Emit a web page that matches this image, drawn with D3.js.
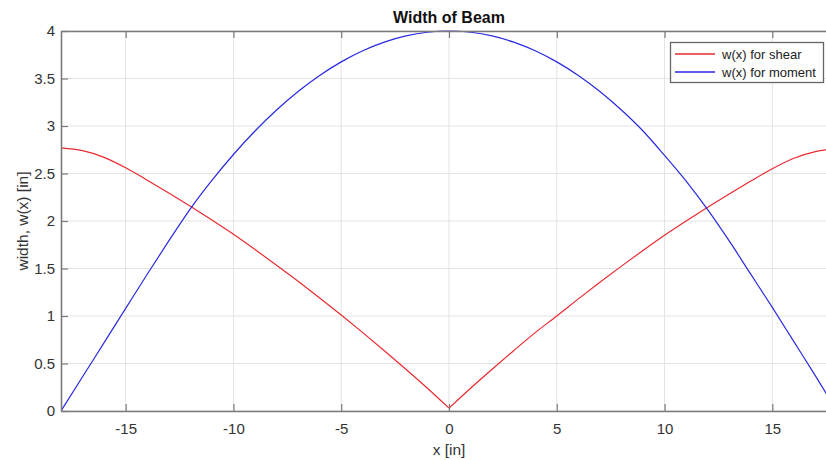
<!DOCTYPE html>
<html>
<head>
<meta charset="utf-8">
<script src="https://cdn.jsdelivr.net/npm/d3@7"></script>
<style>
  body { margin: 0; background: #fff; }
  svg { display: block; font-family: "Liberation Sans", Arial, sans-serif; }
</style>
</head>
<body>
<div id="chart"></div>
<script>
var xs = [-18, -17, -16, -15, -14, -13, -12, -11, -10, -9, -8, -7, -6, -5, -4, -3, -2, -1, 0,
          1, 2, 3, 4, 5, 6, 7, 8, 9, 10, 11, 12, 13, 14, 15, 16, 17, 18];

// w(x) for shear
var shear = [2.77, 2.74, 2.67, 2.56, 2.43, 2.295, 2.155, 2.01, 1.86, 1.70, 1.535, 1.365, 1.19, 1.01, 0.825, 0.635, 0.44, 0.24, 0.03,
             0.24, 0.44, 0.635, 0.825, 1.00, 1.18, 1.355, 1.525, 1.69, 1.85, 2.00, 2.145, 2.285, 2.42, 2.55, 2.66, 2.73, 2.76];

// w(x) for moment
var moment = [0.00, 0.36, 0.72, 1.08, 1.44, 1.79, 2.128, 2.427, 2.70, 2.947, 3.168, 3.363, 3.532, 3.675, 3.792, 3.883, 3.948, 3.987, 4.00,
              3.987, 3.948, 3.883, 3.792, 3.675, 3.532, 3.363, 3.168, 2.947, 2.69, 2.42, 2.12, 1.79, 1.44, 1.09, 0.73, 0.37, 0.00];

var xTicks = [-15, -10, -5, 0, 5, 10, 15];
var xTickLabels = ["-15", "-10", "-5", "0", "5", "10", "15"];
var yTicks = [0, 0.5, 1, 1.5, 2, 2.5, 3, 3.5, 4];
var yTickLabels = ["0", "0.5", "1", "1.5", "2", "2.5", "3", "3.5", "4"];

var seriesNames = ["w(x) for shear", "w(x) for moment"];
var seriesColors = ["#ea2a30", "#2a2ae0"];

drawChart();

function drawChart(){
  var W = 826, H = 460;
  var pL = 61, pT = 31, pB = 411, pR = 837;

  var svg = d3.select("#chart").append("svg")
      .attr("width", W)
      .attr("height", H);

  var x = d3.scaleLinear().domain([-18, 18]).range([pL, pR]);
  var y = d3.scaleLinear().domain([0, 4]).range([pB, pT]);

  // grid
  var grid = svg.append("g");
  grid.selectAll("line.gx")
    .data(xTicks)
    .enter().append("line")
      .attr("x1", function(d){ return x(d); })
      .attr("x2", function(d){ return x(d); })
      .attr("y1", pT).attr("y2", pB)
      .attr("stroke", "#e3e3e3").attr("stroke-width", 1);
  grid.selectAll("line.gy")
    .data(yTicks)
    .enter().append("line")
      .attr("y1", function(d){ return y(d); })
      .attr("y2", function(d){ return y(d); })
      .attr("x1", pL).attr("x2", pR)
      .attr("stroke", "#e3e3e3").attr("stroke-width", 1);

  // curves
  svg.append("clipPath").attr("id", "clip")
    .append("rect").attr("x", pL).attr("y", pT - 2)
    .attr("width", pR - pL).attr("height", pB - pT + 2);

  var line = d3.line()
      .x(function(d){ return x(d[0]); })
      .y(function(d){ return y(d[1]); })
      .curve(d3.curveMonotoneX);

  // shear has a kink at x = 0, so each half is smoothed on its own
  var shearPts = xs.map(function(v, j){ return [v, shear[j]]; });
  var pieces = [
    { pts: shearPts.filter(function(p){ return p[0] <= 0; }), c: 0 },
    { pts: shearPts.filter(function(p){ return p[0] >= 0; }), c: 0 },
    { pts: xs.map(function(v, j){ return [v, moment[j]]; }), c: 1 }
  ];
  pieces.forEach(function(p){
    svg.append("path")
      .datum(p.pts)
      .attr("clip-path", "url(#clip)")
      .attr("fill", "none")
      .attr("stroke", seriesColors[p.c])
      .attr("stroke-width", 1.2)
      .attr("d", line);
  });

  // axes (MATLAB style box with inward ticks)
  var axisColor = "#7a7a7a";
  var bottomAxis = d3.axisBottom(x).tickValues(xTicks).tickSizeInner(-7).tickSizeOuter(0)
      .tickFormat(function(d, i){ return xTickLabels[i]; }).tickPadding(12);
  var topAxis = d3.axisTop(x).tickValues(xTicks).tickSizeInner(-7).tickSizeOuter(0)
      .tickFormat("");
  var leftAxis = d3.axisLeft(y).tickValues(yTicks).tickSizeInner(-7).tickSizeOuter(0)
      .tickFormat(function(d, i){ return yTickLabels[i]; }).tickPadding(6);

  var gB = svg.append("g").attr("transform", "translate(0," + pB + ")").call(bottomAxis);
  var gT = svg.append("g").attr("transform", "translate(0," + pT + ")").call(topAxis);
  var gL = svg.append("g").attr("transform", "translate(" + pL + ",0)").call(leftAxis);

  [gB, gT, gL].forEach(function(g){
    g.select(".domain").attr("stroke", axisColor).attr("stroke-width", 1.6);
    g.selectAll(".tick line").attr("stroke", axisColor).attr("stroke-width", 1.2);
    g.selectAll(".tick text")
      .attr("fill", "#333")
      .style("font-size", "15px")
      .style("font-family", "'Liberation Sans', Arial, sans-serif");
  });

  // title and labels
  svg.append("text")
    .attr("x", x(0)).attr("y", 23)
    .attr("text-anchor", "middle")
    .style("font-size", "16px").style("font-weight", "bold")
    .attr("fill", "#111")
    .text("Width of Beam");

  svg.append("text")
    .attr("x", x(0)).attr("y", 455)
    .attr("text-anchor", "middle")
    .style("font-size", "15.5px")
    .attr("fill", "#333")
    .text("x [in]");

  svg.append("text")
    .attr("transform", "translate(28," + ((pT + pB) / 2) + ") rotate(-90)")
    .attr("text-anchor", "middle")
    .style("font-size", "15.5px")
    .attr("fill", "#333")
    .text("width, w(x) [in]");

  // legend
  var lg = svg.append("g");
  lg.append("rect")
    .attr("x", 670.5).attr("y", 42.5)
    .attr("width", 153).attr("height", 40)
    .attr("fill", "#fff")
    .attr("stroke", "#666").attr("stroke-width", 1.3);

  seriesNames.forEach(function(name, i){
    var ly = 54 + i * 18;
    lg.append("rect")
      .attr("x", 675).attr("y", ly - 0.75)
      .attr("width", 40).attr("height", 1.5)
      .attr("fill", seriesColors[i]);
    lg.append("text")
      .attr("x", 722).attr("y", ly + 4.5)
      .style("font-size", "13px")
      .attr("fill", "#222")
      .text(name);
  });
}
</script>
</body>
</html>
